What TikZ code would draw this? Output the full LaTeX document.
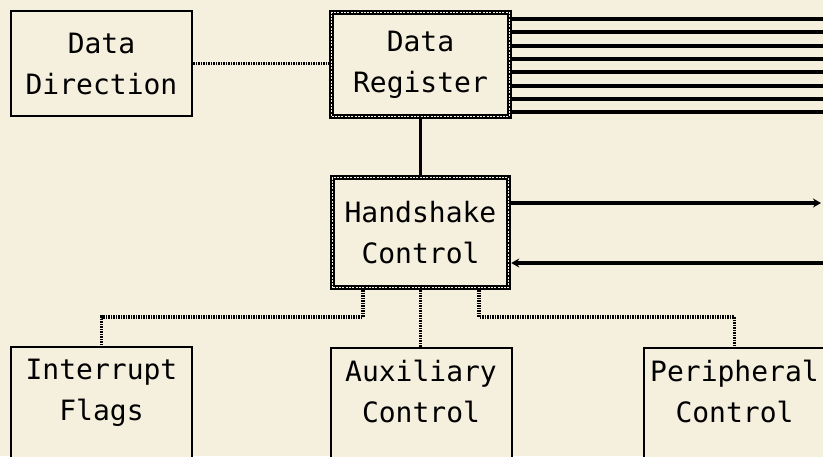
\documentclass[tikz,border=0pt]{standalone}
\usepackage{fontspec}
\setmainfont{DejaVu Sans Mono}
\usepackage{tikz}
\usetikzlibrary{arrows.meta, calc}
\definecolor{paper}{RGB}{245,239,222}

\begin{document}
\begin{tikzpicture}[x=1pt, y=-1pt,
    box/.style={draw, line width=2pt, fill=paper, align=center, inner ysep=6pt, inner xsep=2pt,
      minimum width=181pt, font=\fontsize{28}{41}\selectfont},
    regbox/.style={box, line width=5.5pt, minimum width=178pt,
      postaction={draw=paper, line width=1.6pt, dash pattern=on 2pt off 1.3pt}},
    lowbox/.style={box, anchor=north, inner ysep=12pt, text depth=80pt},
    link/.style={line width=3.5pt, dash pattern=on 1.6pt off 0.9pt},
    bus/.style={line width=4pt},
    sig/.style={line width=3.5pt, -{Stealth[length=8pt, width=9pt]}}]
          % --- 1. 畫面範圍與底色 ---
          \useasboundingbox (0,0) rectangle (823,456);
          \fill[paper] (0,0) rectangle (823,456);
          \clip (0,0) rectangle (823,456);
          \def\yK{317}

          % --- 2. 上方方塊 ---
          \node[box, minimum height=105pt] (DD) at (101.5,63.5) {Data\\Direction};
          \node[regbox, minimum height=104pt] (DR) at (420.5,64.5) {Data\\Register};
          \node[regbox, minimum width=176pt, minimum height=110pt] (HC) at (420.5,232.5) {Handshake\\Control};

          % --- 3. 下方方塊 (被畫面底邊截斷) ---
          \node[lowbox] (IF) at (101.5,346) {Interrupt\\Flags};
          \node[lowbox] (AC) at (421,347) {Auxiliary\\Control};
          \node[lowbox] (PC) at (734.5,347) {Peripheral\\Control};

          % --- 4. 資料線與握手訊號 ---
          \foreach \i in {0,...,7}{
            \coordinate (bus\i) at (830,19+13.3*\i);
            \draw[bus] (DR.east |- bus\i) -- (bus\i);
          }
          \coordinate (out1) at (821,203);
          \coordinate (in1) at (830,263);
          \draw[sig] (HC.east |- out1) -- (out1);
          \draw[sig] (in1) -- (HC.east |- in1);

          % --- 5. 連接線 ---
          \draw[line width=3pt] (DR.south) -- (HC.north);
          \draw[link] (DD.east) -- (DD.east -| DR.west);
          \coordinate (k1) at (363,\yK);
          \coordinate (k3) at (479,\yK);
          \draw[link] (HC.south -| k1) -- (k1) -| (IF.north);
          \draw[link] (HC.south) -- (HC.south |- AC.north);
          \draw[link] (HC.south -| k3) -- (k3) -| (PC.north);

      \end{tikzpicture}
\end{document}
